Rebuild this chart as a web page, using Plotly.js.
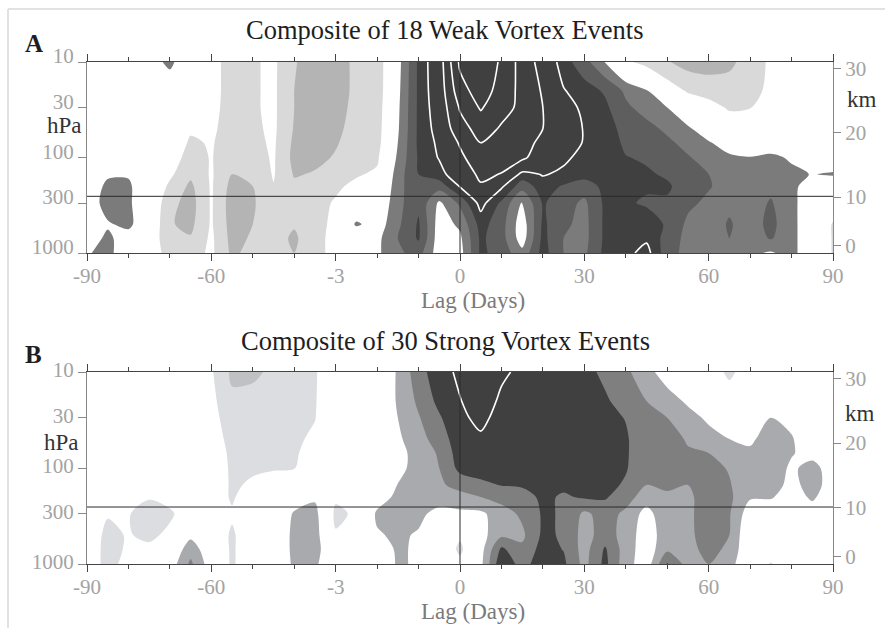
<!DOCTYPE html>
<html>
<head>
<meta charset="utf-8">
<script src="https://cdn.plot.ly/plotly-3.0.1.min.js"></script>
<style>
  html, body { margin: 0; padding: 0; background: #fff; }
  #chart { width: 885px; height: 628px; }
</style>
</head>
<body>
<div id="chart"></div>
<script>
// Lag axis (days) and pressure levels (hPa) of the composite grid
const lags = [-90,-85,-80,-75,-70,-65,-60,-55,-50,-45,-40,-35,-30,-25,-20,-15,-10,-5,0,
              5,10,15,20,25,30,35,40,45,50,55,60,65,70,75,80,85,90];
const pressureLevels = [10,20,30,50,70,100,150,200,300,500,700,1000];

// Composite annular-mode index, one column per lag (values at the pressure levels above)
const weakVortexIndex = [
  [0,0,0,0,0,0,0,0,-0.05,-0.1,-0.12,-0.22],
  [0,0,0,0,0,-0.05,-0.2,-0.33,-0.38,-0.22,-0.3,-0.35],
  [0,0,0,0,0,-0.05,-0.22,-0.3,-0.3,-0.32,-0.12,0],
  [-0.12,0,0,0,0,0,0,0,0,0,0.05,0.1],
  [-0.32,-0.05,0,0,0,0.08,0.2,0.3,0.42,0.48,0.45,0.35],
  [0,0,0,0.2,0.3,0.38,0.45,0.55,0.6,0.56,0.48,0.36],
  [0.12,0.12,0.14,0.18,0.22,0.23,0.22,0.22,0.22,0.22,0.2,0.2],
  [0.4,0.4,0.4,0.42,0.42,0.45,0.5,0.58,0.62,0.6,0.58,0.55],
  [0.28,0.28,0.28,0.3,0.32,0.36,0.45,0.5,0.53,0.5,0.47,0.42],
  [0.2,0.2,0.2,0.2,0.21,0.22,0.23,0.26,0.32,0.36,0.38,0.35],
  [0.48,0.5,0.5,0.52,0.55,0.57,0.52,0.45,0.42,0.47,0.55,0.5],
  [0.62,0.62,0.62,0.62,0.6,0.56,0.48,0.4,0.35,0.32,0.3,0.3],
  [0.6,0.6,0.58,0.55,0.52,0.48,0.38,0.3,0.22,0.2,0.2,0.2],
  [0.45,0.45,0.44,0.42,0.4,0.36,0.28,0.18,0.1,-0.3,0.05,0.05],
  [0.42,0.42,0.4,0.38,0.36,0.3,0.2,0.1,0,-0.1,-0.18,-0.2],
  [-0.15,-0.18,-0.2,-0.22,-0.25,-0.3,-0.38,-0.4,-0.42,-0.45,-0.5,-0.45],
  [-0.8,-0.8,-0.8,-0.8,-0.8,-0.78,-0.75,-0.72,-0.7,-0.78,-0.78,-0.6],
  [-1.25,-1.22,-1.18,-1.12,-1.06,-1.02,-0.9,-0.6,-0.2,-0.12,-0.1,-0.1],
  [-2.6,-2.3,-2.05,-1.8,-1.55,-1.4,-1.2,-1.02,-0.55,-0.3,-0.2,-0.15],
  [-2.9,-2.75,-2.55,-2.2,-2.0,-1.8,-1.6,-1.45,-1.1,-0.85,-0.8,-0.8],
  [-2.42,-2.3,-2.15,-1.95,-1.8,-1.7,-1.48,-1.05,-0.7,-0.6,-0.6,-0.65],
  [-1.8,-1.85,-1.9,-1.75,-1.65,-1.6,-0.9,-0.6,-0.22,-0.1,-0.12,-0.32],
  [-1.3,-1.45,-1.5,-1.5,-1.4,-1.2,-1.02,-0.88,-0.78,-0.8,-0.82,-0.85],
  [-0.85,-1.02,-1.1,-1.2,-1.15,-1.05,-0.95,-0.72,-0.6,-0.55,-0.5,-0.5],
  [-0.6,-0.85,-0.95,-0.98,-0.98,-0.92,-0.85,-0.62,-0.45,-0.42,-0.42,-0.45],
  [-0.24,-0.72,-0.8,-0.88,-0.9,-0.88,-0.85,-0.82,-0.8,-0.8,-0.8,-0.82],
  [0.2,-0.45,-0.55,-0.65,-0.7,-0.76,-0.8,-0.82,-0.8,-0.85,-0.9,-0.92],
  [0.35,-0.27,-0.4,-0.58,-0.65,-0.72,-0.78,-0.8,-0.7,-0.95,-0.95,-1.1],
  [0.48,0.1,-0.25,-0.45,-0.55,-0.62,-0.72,-0.78,-0.72,-0.7,-0.65,-0.6],
  [0.6,0.28,0.05,-0.3,-0.42,-0.52,-0.6,-0.65,-0.55,-0.45,-0.42,-0.42],
  [0.62,0.35,0.15,-0.05,-0.28,-0.4,-0.5,-0.52,-0.45,-0.4,-0.4,-0.4],
  [0.55,0.4,0.28,0.1,-0.1,-0.3,-0.38,-0.4,-0.46,-0.52,-0.5,-0.4],
  [0.4,0.35,0.26,0.05,-0.05,-0.26,-0.35,-0.38,-0.4,-0.4,-0.38,-0.3],
  [0.2,0.18,0.1,0,-0.1,-0.3,-0.38,-0.45,-0.52,-0.56,-0.52,-0.22],
  [0,0,0,0,-0.1,-0.22,-0.3,-0.35,-0.35,-0.35,-0.35,-0.35],
  [0,0,0,0,0,-0.05,-0.24,-0.05,0,0,0,0],
  [0,0,0,0,0,-0.05,-0.28,-0.05,0.1,0.27,0.27,0.27]
];

const strongVortexIndex = [
  [0,0,0,0,0,0,0,0,0,0,0,0],
  [0,0,0,0,0,0,0,0,-0.22,-0.35,-0.38,-0.38],
  [0,0,0,0,0,0,0,-0.1,-0.23,-0.22,-0.2,-0.12],
  [0,0,0,0,0,0,0,-0.22,-0.4,-0.35,-0.15,0],
  [0,0,0,0,0,0,0,-0.1,-0.32,-0.15,0,0.1],
  [0,0,0,0,0,0,0,0,0,0.18,0.4,0.55],
  [-0.22,-0.18,-0.15,-0.1,-0.05,0,0,0,0,0,0.05,0.1],
  [-0.55,-0.45,-0.4,-0.35,-0.32,-0.31,-0.3,-0.3,-0.2,-0.3,-0.3,-0.3],
  [-0.55,-0.42,-0.38,-0.35,-0.32,-0.3,-0.2,0,0,0,0,0],
  [-0.45,-0.35,-0.35,-0.33,-0.3,-0.28,-0.1,0,0,0,0,0],
  [-0.35,-0.33,-0.33,-0.3,-0.28,-0.26,-0.05,0.1,0.28,0.32,0.32,0.3],
  [-0.28,-0.27,-0.26,-0.2,-0.15,-0.1,0,0.2,0.35,0.38,0.35,0.3],
  [0,0,0,0,0,0,0,-0.2,-0.32,-0.22,0,0],
  [0,0,0,0,0,0,0,-0.1,-0.2,-0.1,0,0],
  [0,0,0,0,0,0,0.05,0.1,0.3,0.22,0.05,0.05],
  [0.28,0.28,0.25,0.2,0.12,0.1,0.26,0.32,0.32,0.3,0.3,0.28],
  [0.65,0.55,0.48,0.42,0.4,0.45,0.42,0.38,0.32,0.22,0.2,0.22],
  [0.9,0.82,0.72,0.6,0.52,0.5,0.45,0.4,0.15,0.1,0.05,0.05],
  [1.05,0.99,0.96,0.92,0.88,0.82,0.6,0.4,0.2,-0.2,-0.32,-0.15],
  [1.2,1.12,1.05,0.97,0.92,0.85,0.7,0.5,0.2,0.15,0.15,0.18],
  [1.04,0.96,0.93,0.9,0.88,0.85,0.76,0.6,0.38,0.45,0.8,0.95],
  [0.95,0.92,0.9,0.88,0.86,0.84,0.78,0.65,0.55,0.45,0.55,0.65],
  [0.92,0.9,0.88,0.86,0.85,0.84,0.82,0.8,0.78,0.8,0.85,0.9],
  [0.88,0.88,0.88,0.87,0.86,0.85,0.8,0.72,0.73,0.72,0.74,0.8],
  [0.82,0.85,0.86,0.87,0.87,0.86,0.84,0.78,0.45,0.4,0.4,0.42],
  [0.7,0.78,0.82,0.84,0.85,0.84,0.82,0.78,0.6,0.62,0.78,0.82],
  [0.55,0.66,0.74,0.78,0.78,0.77,0.72,0.6,0.45,0.4,0.38,0.35],
  [0.35,0.5,0.58,0.58,0.58,0.57,0.5,0.38,0.15,0.1,0.1,0.1],
  [0.1,0.38,0.5,0.58,0.58,0.57,0.52,0.48,0.45,0.4,0.45,0.77],
  [0,0.2,0.35,0.48,0.52,0.55,0.5,0.45,0.45,0.45,0.42,0.4],
  [0,0.05,0.2,0.35,0.5,0.58,0.6,0.62,0.62,0.6,0.58,0.5],
  [-0.35,0,0.1,0.25,0.38,0.48,0.52,0.55,0.52,0.5,0.45,0.35],
  [0,0,0.05,0.2,0.3,0.33,0.32,0.28,0.1,0,0,0],
  [0,0.1,0.25,0.38,0.42,0.42,0.4,0.28,0.05,0,0,-0.28],
  [0,0,0.15,0.28,0.27,0.2,0.15,0.1,0,0,0,0],
  [0,0,0,0,0.15,0.35,0.38,0.3,0.1,0,0,0],
  [0,0,0,0,0,0.1,0.1,0.05,0,0,0,0]
];

// Axis ticks and labels
const lagTicks = [-90,-60,-30,0,30,60,90];
const lagTickText = ['-90','-60','-3','0','30','60','90'];
const pressureTicks = [10,30,100,300,1000];
const pressureTickText = ['10','30','100','300','1000'];
const heightLabels = ['30','20','10','0'];
const heightPressure = [11.7,55,260,840];
const tropopausePressure = 255;

const panelTitles = ['Composite of 18 Weak Vortex Events', 'Composite of 30 Strong Vortex Events'];

// Shading: 0.25 interval, unshaded between -0.25 and 0.25; white lines every 0.5 from 1
const weakShades = ['#404040','#5e5e5e','#7b7b7b','#ffffff','#ffffff','#d9d9d9','#b4b4b4','#a0a0a0'];
const strongShades = ['#c0c1c5','#dcdde0','#ffffff','#ffffff','#a9aaae','#7f7f7f','#404040'];

const W = 885, H = 628;
const px = x => x / W;
const py = y => 1 - y / H;
const serif = 'Liberation Serif';

function stepScale(colors) {
  return colors.map((c, i) => [i / (colors.length - 1), c]);
}

function shading(z, xa, ya, start, end, colors) {
  return {
    type: 'contour', x: lags, y: pressureLevels, z: z, transpose: true,
    xaxis: xa, yaxis: ya, autocontour: false,
    contours: { coloring: 'fill', start: start, end: end, size: 0.25, showlines: false },
    colorscale: stepScale(colors),
    line: { width: 0, smoothing: 0.85 },
    showscale: false, hoverinfo: 'skip'
  };
}

// White isolines are drawn on the height (km) axis, which shares the pressure scale
function whiteLines(z, xa, ya, start, end) {
  return {
    type: 'contour', x: lags, y: pressureLevels, z: z, transpose: true,
    xaxis: xa, yaxis: ya, autocontour: false,
    contours: { coloring: 'none', start: start, end: end, size: 0.5 },
    line: { color: '#ffffff', width: 1.6, smoothing: 0.85 },
    showscale: false, hoverinfo: 'skip'
  };
}

const data = [
  shading(weakVortexIndex, 'x', 'y', -0.75, 0.75, weakShades),
  whiteLines(weakVortexIndex, 'x', 'y3', -2.5, -1.0),
  shading(strongVortexIndex, 'x2', 'y2', -0.5, 0.75, strongShades),
  whiteLines(strongVortexIndex, 'x2', 'y4', 1.0, 1.0)
];

const tickFont = { family: serif, size: 21, color: '#a3a3a3' };

function lagAxis(anchor) {
  return {
    domain: [px(87), px(833)], range: [-90, 90], anchor: anchor,
    tickmode: 'array', tickvals: lagTicks, ticktext: lagTickText,
    ticks: 'outside', ticklen: 7, tickwidth: 1, tickcolor: '#444', ticklabelstandoff: -3,
    minor: { tickmode: 'linear', tick0: 0, dtick: 10, ticks: 'outside', ticklen: 4, tickcolor: '#444', showgrid: false },
    showline: true, linecolor: '#444', linewidth: 1, mirror: 'ticks',
    showgrid: false, zeroline: false, tickfont: tickFont, fixedrange: true
  };
}

function pressureAxis(anchor, top, bottom, shift) {
  return {
    domain: [py(bottom), py(top)], type: 'log', range: [3, 1], anchor: anchor,
    tickmode: 'array', tickvals: pressureTicks, ticktext: pressureTickText,
    ticks: 'outside', ticklen: 8, tickcolor: '#888', ticklabelshift: shift,
    showline: true, linecolor: '#888', showgrid: false, zeroline: false,
    tickfont: tickFont, fixedrange: true
  };
}

function heightAxis(anchor, over) {
  return {
    type: 'log', range: [3, 1], anchor: anchor, overlaying: over, side: 'right',
    tickmode: 'array', tickvals: heightPressure, ticktext: heightLabels,
    ticks: 'outside', ticklen: 7, tickcolor: '#888',
    showline: true, linecolor: '#888', showgrid: false, zeroline: false,
    tickfont: tickFont, fixedrange: true
  };
}

function refLines(xr, yr) {
  return [
    { type: 'line', xref: xr, yref: yr, x0: -90, x1: 90, y0: tropopausePressure, y1: tropopausePressure,
      line: { color: '#2a2a2a', width: 1 } },
    { type: 'line', xref: xr, yref: yr, x0: 0, x1: 0, y0: 10, y1: 1000,
      line: { color: '#2a2a2a', width: 1 } }
  ];
}

function label(text, x, y, size, color) {
  return { text: text, x: px(x), y: py(y), xref: 'paper', yref: 'paper', showarrow: false,
           xanchor: 'center', yanchor: 'middle', font: { family: serif, size: size, color: color } };
}

const layout = {
  width: W, height: H,
  margin: { l: 0, r: 0, t: 0, b: 0, pad: 0 },
  paper_bgcolor: '#ffffff', plot_bgcolor: '#ffffff',
  font: { family: serif },
  showlegend: false,
  xaxis: lagAxis('y'),
  yaxis: pressureAxis('x', 62, 253, 6),
  yaxis3: heightAxis('x', 'y'),
  xaxis2: lagAxis('y2'),
  yaxis2: pressureAxis('x2', 372, 564, 2),
  yaxis4: heightAxis('x2', 'y2'),
  shapes: [
    ...refLines('x', 'y'),
    ...refLines('x2', 'y2'),
    { type: 'line', xref: 'paper', yref: 'paper', x0: px(8), x1: 1, y0: py(9), y1: py(9), line: { color: '#e2e2e2', width: 2 } },
    { type: 'line', xref: 'paper', yref: 'paper', x0: px(8), x1: px(8), y0: py(9), y1: 0, line: { color: '#e2e2e2', width: 2 } }
  ],
  annotations: [
    label(panelTitles[0], 445, 30, 26.5, '#1e1e1e'),
    label(panelTitles[1], 445, 341, 26.5, '#1e1e1e'),
    label('<b>A</b>', 34, 44, 25, '#1e1e1e'),
    label('<b>B</b>', 33, 354, 25, '#1e1e1e'),
    label('hPa', 64, 125, 23, '#333333'),
    label('hPa', 61, 442, 23, '#333333'),
    label('km', 862, 100, 23, '#333333'),
    label('km', 860, 413, 23, '#333333'),
    label('Lag (Days)', 473, 300, 23, '#7a7a7a'),
    label('Lag (Days)', 473, 611, 23, '#7a7a7a')
  ]
};

Plotly.newPlot('chart', data, layout, { staticPlot: true, displayModeBar: false });
</script>
</body>
</html>
